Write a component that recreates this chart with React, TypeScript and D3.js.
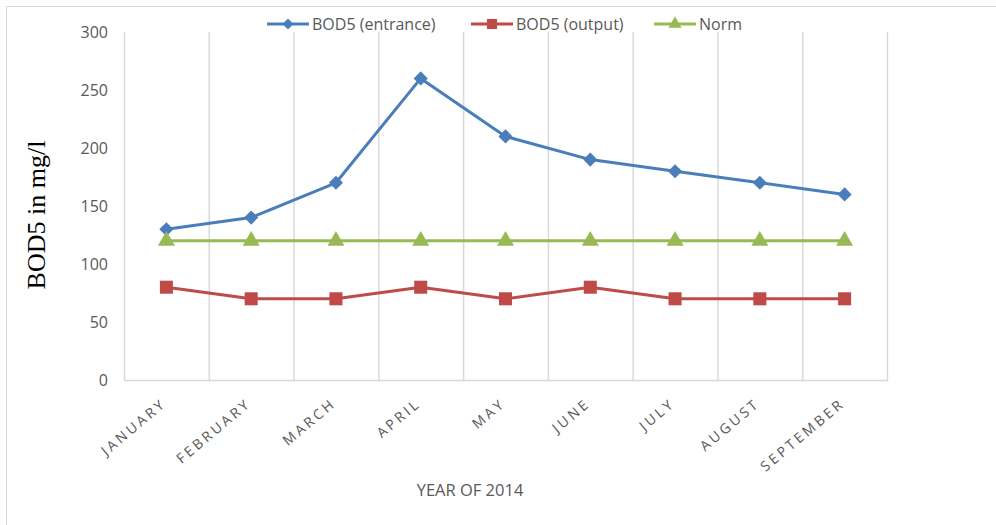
import React, { useRef, useEffect } from "react";
import * as d3 from "d3";

// Chart data
const months = [
  "JANUARY",
  "FEBRUARY",
  "MARCH",
  "APRIL",
  "MAY",
  "JUNE",
  "JULY",
  "AUGUST",
  "SEPTEMBER",
];
const bodEntrance = [130, 140, 170, 260, 210, 190, 180, 170, 160];
const bodOutput = [80, 70, 70, 80, 70, 80, 70, 70, 70];
const norm = [120, 120, 120, 120, 120, 120, 120, 120, 120];
const yTicks = [0, 50, 100, 150, 200, 250, 300];

// diamond = square turned 45 degrees
const series = [
  { name: "BOD5 (entrance)", values: bodEntrance, color: "#4a7ebb", symbol: d3.symbolSquare, size: 100, rot: 45 },
  { name: "BOD5 (output)", values: bodOutput, color: "#be4b48", symbol: d3.symbolSquare, size: 170, rot: 0 },
  { name: "Norm", values: norm, color: "#98b954", symbol: d3.symbolTriangle, size: 125, rot: 0 },
];

const width = 996;
const height = 525;
const margin = { top: 32, right: 109, bottom: 145, left: 124 };
const labelFont = "'Open Sans', 'Liberation Sans', sans-serif";

const App = () => {
  const svgRef = useRef<SVGSVGElement>(null);

  useEffect(() => {
    document.body.style.margin = "0";
    const svg = d3.select(svgRef.current);
    svg.selectAll("*").remove();

    svg.attr("width", width).attr("height", height);

    // outer frame
    svg
      .append("rect")
      .attr("x", 6.5)
      .attr("y", 6.5)
      .attr("width", width + 10)
      .attr("height", height + 10)
      .attr("fill", "white")
      .attr("stroke", "#d9d9d9")
      .attr("stroke-width", 1);

    const x = d3
      .scaleBand()
      .domain(months)
      .range([margin.left, width - margin.right])
      .padding(0);
    const y = d3
      .scaleLinear()
      .domain([0, 300])
      .range([height - margin.bottom, margin.top]);

    const cx = (m: string) => (x(m) as number) + x.bandwidth() / 2;

    // vertical gridlines at category boundaries
    const bounds = months.map((m) => x(m) as number).concat([width - margin.right]);
    svg
      .append("g")
      .selectAll("line")
      .data(bounds)
      .enter()
      .append("line")
      .attr("x1", (d) => d + 0.5)
      .attr("x2", (d) => d + 0.5)
      .attr("y1", y(300))
      .attr("y2", y(0))
      .attr("stroke", "#d9d9d9")
      .attr("stroke-width", 1.5);

    // x axis baseline
    svg
      .append("line")
      .attr("x1", margin.left)
      .attr("x2", width - margin.right + 1)
      .attr("y1", y(0) + 0.5)
      .attr("y2", y(0) + 0.5)
      .attr("stroke", "#d9d9d9")
      .attr("stroke-width", 1.5);

    // y tick labels
    svg
      .append("g")
      .selectAll("text")
      .data(yTicks)
      .enter()
      .append("text")
      .attr("x", 108)
      .attr("y", (d) => y(d))
      .attr("dy", "0.35em")
      .attr("text-anchor", "end")
      .attr("font-family", labelFont)
      .attr("font-size", 16)
      .attr("fill", "#595959")
      .text((d) => d);

    // y axis title
    svg
      .append("text")
      .attr("transform", `translate(45,215) rotate(-90)`)
      .attr("text-anchor", "middle")
      .attr("font-family", "'Liberation Serif', 'DejaVu Serif', serif")
      .attr("font-size", 26)
      .attr("fill", "#000")
      .text("BOD5 in mg/l");

    // x tick labels, rotated
    svg
      .append("g")
      .selectAll("text")
      .data(months)
      .enter()
      .append("text")
      .attr("transform", (d) => `translate(${cx(d) + 1},${y(0) + 25}) rotate(-40)`)
      .attr("text-anchor", "end")
      .attr("font-family", labelFont)
      .attr("font-size", 14)
      .attr("letter-spacing", 3)
      .attr("fill", "#595959")
      .text((d) => d);

    // x axis title
    svg
      .append("text")
      .attr("x", 470)
      .attr("y", 496)
      .attr("text-anchor", "middle")
      .attr("font-family", labelFont)
      .attr("font-size", 16.5)
      .attr("fill", "#595959")
      .text("YEAR OF 2014");

    // lines and markers
    const line = d3
      .line<number>()
      .x((d, i) => cx(months[i]))
      .y((d) => y(d));

    series.forEach((s) => {
      const g = svg.append("g");
      g.append("path")
        .datum(s.values)
        .attr("d", line)
        .attr("fill", "none")
        .attr("stroke", s.color)
        .attr("stroke-width", 3)
        .attr("stroke-linejoin", "round");
      g.selectAll("path.marker")
        .data(s.values)
        .enter()
        .append("path")
        .attr("class", "marker")
        .attr("d", d3.symbol().type(s.symbol).size(s.size))
        .attr("transform", (d, i) => `translate(${cx(months[i])},${y(d)}) rotate(${s.rot})`)
        .attr("fill", s.color);
    });

    // legend
    const legendX = [267, 471, 654];
    const legend = svg
      .append("g")
      .selectAll("g")
      .data(series)
      .enter()
      .append("g")
      .attr("transform", (d, i) => `translate(${legendX[i]},24)`);
    legend
      .append("line")
      .attr("x1", 0)
      .attr("x2", 42)
      .attr("stroke", (d) => d.color)
      .attr("stroke-width", 3);
    legend
      .append("path")
      .attr("d", (d) => d3.symbol().type(d.symbol).size(d.size * 0.6)())
      .attr("transform", (d) => `translate(21,0) rotate(${d.rot})`)
      .attr("fill", (d) => d.color);
    legend
      .append("text")
      .attr("x", 45)
      .attr("dy", "0.35em")
      .attr("font-family", labelFont)
      .attr("font-size", 16)
      .attr("fill", "#595959")
      .text((d) => d.name);
  }, []);

  return <svg ref={svgRef}></svg>;
};

export default App;
